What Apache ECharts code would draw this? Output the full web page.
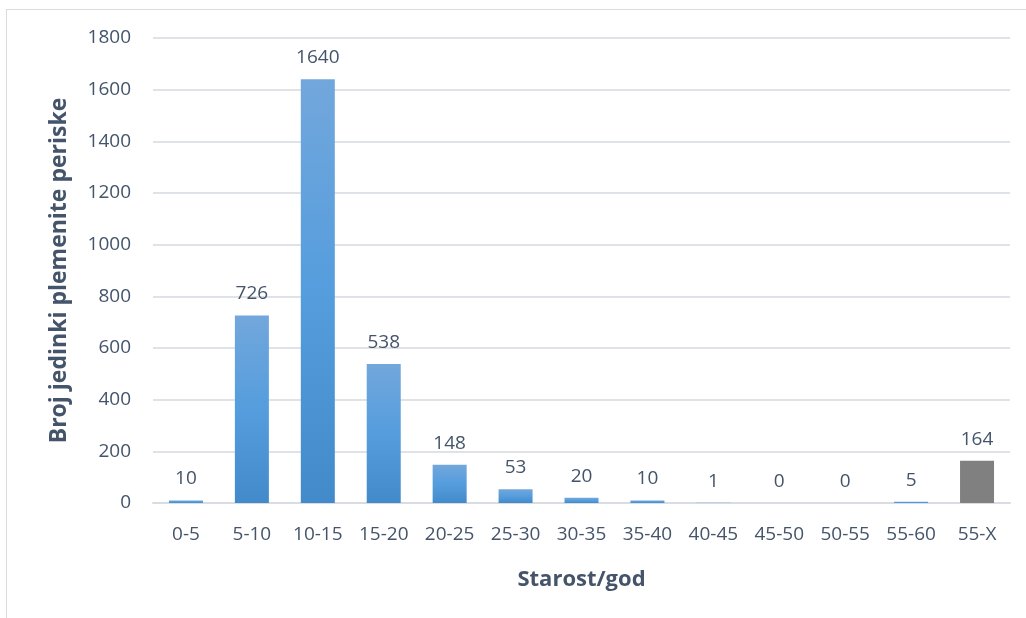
<!DOCTYPE html>
<html><head><meta charset="utf-8">
<script src="https://cdn.jsdelivr.net/npm/echarts@6/dist/echarts.min.js"></script>
<style>
html,body{margin:0;padding:0;background:#fff;}
#frame{position:absolute;left:6px;top:9px;width:1030px;height:620px;border-top:1.5px solid #d9dde3;border-left:1.5px solid #d9dde3;}
#c{position:absolute;left:0;top:0;width:1026px;height:618px;}
</style></head>
<body>
<div id="frame"></div>
<div id="c"></div>
<script>
const categories = ['0-5','5-10','10-15','15-20','20-25','25-30','30-35','35-40','40-45','45-50','50-55','55-60','55-X'];
const values = [10, 726, 1640, 538, 148, 53, 20, 10, 1, 0, 0, 5, 164];
const yTicks = {min: 0, max: 1800, interval: 200};
const xTitle = 'Starost/god';
const yTitle = 'Broj jedinki plemenite periske';

const FONT = '"Open Sans", "Liberation Sans", sans-serif';
const TXT = '#44546a';
const blueGrad = new echarts.graphic.LinearGradient(0,0,0,1,[{offset:0,color:'#72a7dc'},{offset:0.5,color:'#559ddd'},{offset:1,color:'#428aca'}]);
const chart = echarts.init(document.getElementById('c'), null, {renderer:'canvas'});
chart.setOption({
  animation:false,
  grid:{left:153, right:16, top:38, bottom:115},
  xAxis:{type:'category', data:categories,
    name:xTitle, nameLocation:'middle', nameGap:66,
    nameTextStyle:{fontFamily:FONT, fontSize:22, fontWeight:'bold', color:TXT},
    axisLine:{lineStyle:{color:'#d9dde3', width:2}}, axisTick:{show:false},
    axisLabel:{interval:0, hideOverlap:false, fontFamily:FONT, fontSize:19, color:TXT, margin:22}},
  yAxis:{type:'value', min:yTicks.min, max:yTicks.max, interval:yTicks.interval,
    name:yTitle, nameLocation:'middle', nameGap:82,
    nameTextStyle:{fontFamily:FONT, fontSize:23, fontWeight:'bold', color:TXT},
    axisLine:{show:false}, axisTick:{show:false},
    splitLine:{lineStyle:{color:'#dfe3e8', width:2}},
    axisLabel:{fontFamily:FONT, fontSize:19, color:TXT, margin:22, formatter: v => String(v)}},
  series:[{type:'bar', barWidth:34,
    data: values.map((v,i)=>({value:v, itemStyle:{color: i===values.length-1 ? '#808080' : blueGrad}})),
    label:{show:true, position:'top', distance:12, fontFamily:FONT, fontSize:19, color:TXT}}]
});
</script>
</body></html>
